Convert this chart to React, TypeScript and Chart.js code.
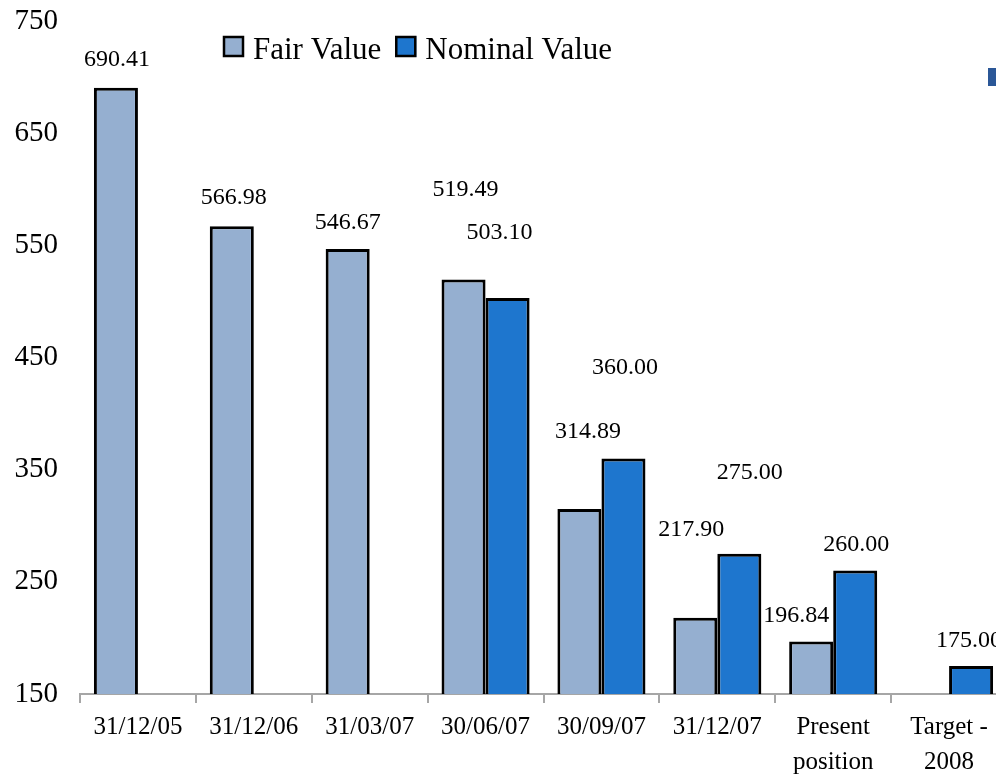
import React, { useEffect, useRef } from "react";
import { Chart, registerables } from "chart.js";

Chart.register(...registerables);

const categories: (string | string[])[] = [
  "31/12/05",
  "31/12/06",
  "31/03/07",
  "30/06/07",
  "30/09/07",
  "31/12/07",
  ["Present", "position"],
  ["Target -", "2008"],
];
const fairValue: (number | null)[] = [690.41, 566.98, 546.67, 519.49, 314.89, 217.9, 196.84, null];
const nominalValue: (number | null)[] = [null, null, null, 503.1, 360.0, 275.0, 260.0, 175.0];
const seriesNames = ["Fair Value", "Nominal Value"];
const yMin = 150;
const yMax = 750;
const yStep = 100;

// label placement (pixel offsets from bar top-centre), as placed in the original
const fairLabelOffsets: [number, number][] = [
  [1, -30], [2, -30], [0, -28.5], [2, -91.5], [8.5, -79], [-4, -90], [-15, -27], [0, 0],
];
const nominalLabelOffsets: [number, number][] = [
  [0, 0], [0, 0], [0, 0], [-8, -67], [1.5, -92], [10.5, -83], [1, -27.5], [-2, -27],
];

const FONT = "'Liberation Serif', 'Times New Roman', serif";
const FAIR_COLOR = "#95AFD0";
const NOMINAL_COLOR = "#1E76CE";

const labelPlugin = {
  id: "valueLabels",
  afterDatasetsDraw(chart: any) {
    const ctx = chart.ctx;
    const offsets = [fairLabelOffsets, nominalLabelOffsets];
    ctx.save();
    ctx.font = `24px ${FONT}`;
    ctx.fillStyle = "#000";
    ctx.textAlign = "center";
    ctx.textBaseline = "alphabetic";
    chart.data.datasets.forEach((ds: any, di: number) => {
      const meta = chart.getDatasetMeta(di);
      meta.data.forEach((el: any, i: number) => {
        const v = ds.data[i];
        if (v === null || v === undefined) return;
        const [dx, dy] = offsets[di][i];
        ctx.fillText(Number(v).toFixed(2), el.x + dx, el.y + dy + 8);
      });
    });
    ctx.restore();
  },
};

const legendPlugin = {
  id: "customLegend",
  afterDraw(chart: any) {
    const ctx = chart.ctx;
    ctx.save();
    ctx.font = `31px ${FONT}`;
    ctx.textBaseline = "alphabetic";
    ctx.textAlign = "left";
    let x = 223;
    const boxY = 36;
    const box = 21;
    chart.data.datasets.forEach((ds: any) => {
      ctx.fillStyle = ds.backgroundColor;
      ctx.fillRect(x, boxY, box, box);
      ctx.lineWidth = 2.5;
      ctx.strokeStyle = "#000";
      ctx.strokeRect(x + 1, boxY + 1, box - 2, box - 2);
      ctx.fillStyle = "#000";
      ctx.fillText(ds.label, x + 30, 59);
      x = x + 30 + ctx.measureText(ds.label).width + 14;
    });
    // clipped marker at the right edge of the original picture
    ctx.fillStyle = "#2B5797";
    ctx.fillRect(988, 68, 12, 18);
    ctx.restore();
  },
};

export default function App() {
  const canvasRef = useRef<HTMLCanvasElement | null>(null);

  useEffect(() => {
    if (!canvasRef.current) return;
    Chart.defaults.font.family = FONT;
    const chart = new Chart(canvasRef.current, {
      type: "bar",
      data: {
        labels: categories as any,
        datasets: [
          {
            label: seriesNames[0],
            data: fairValue,
            backgroundColor: FAIR_COLOR,
            borderColor: "#000",
            borderWidth: 3,
            categoryPercentage: 0.76,
            barPercentage: 1.0,
          },
          {
            label: seriesNames[1],
            data: nominalValue,
            backgroundColor: NOMINAL_COLOR,
            borderColor: "#000",
            borderWidth: 3,
            categoryPercentage: 0.76,
            barPercentage: 1.0,
          },
        ],
      },
      options: {
        animation: false,
        responsive: false,
        devicePixelRatio: 1,
        layout: { padding: { top: 21, right: 3, left: 0, bottom: 0 } },
        plugins: {
          legend: { display: false },
          tooltip: { enabled: false },
        },
        scales: {
          x: {
            grid: {
              display: true,
              drawOnChartArea: false,
              drawTicks: true,
              tickLength: 9,
              color: "#A6A6A6",
              lineWidth: 2,
              offset: true,
            },
            border: { display: true, color: "#A6A6A6", width: 2 },
            ticks: {
              color: "#000",
              font: { size: 25, family: FONT, lineHeight: 1.4 },
              padding: 7,
              maxRotation: 0,
              autoSkip: false,
            },
            afterFit: (scale: any) => {
              scale.height = 81;
            },
          },
          y: {
            min: yMin,
            max: yMax,
            grid: { display: false, drawTicks: false },
            border: { display: false },
            ticks: {
              stepSize: yStep,
              color: "#000",
              font: { size: 29, family: FONT },
              padding: 22,
            },
            afterFit: (scale: any) => {
              scale.width = 80;
              scale.paddingTop = 0;
              scale.paddingBottom = 0;
            },
          },
        },
      },
      plugins: [labelPlugin, legendPlugin],
    });
    return () => chart.destroy();
  }, []);

  return (
    <div
      style={{
        position: "fixed",
        left: 0,
        top: 0,
        width: 996,
        height: 775,
        overflow: "hidden",
        background: "#fff",
      }}
    >
      <canvas ref={canvasRef} width={1010} height={775} style={{ display: "block" }} />
    </div>
  );
}
